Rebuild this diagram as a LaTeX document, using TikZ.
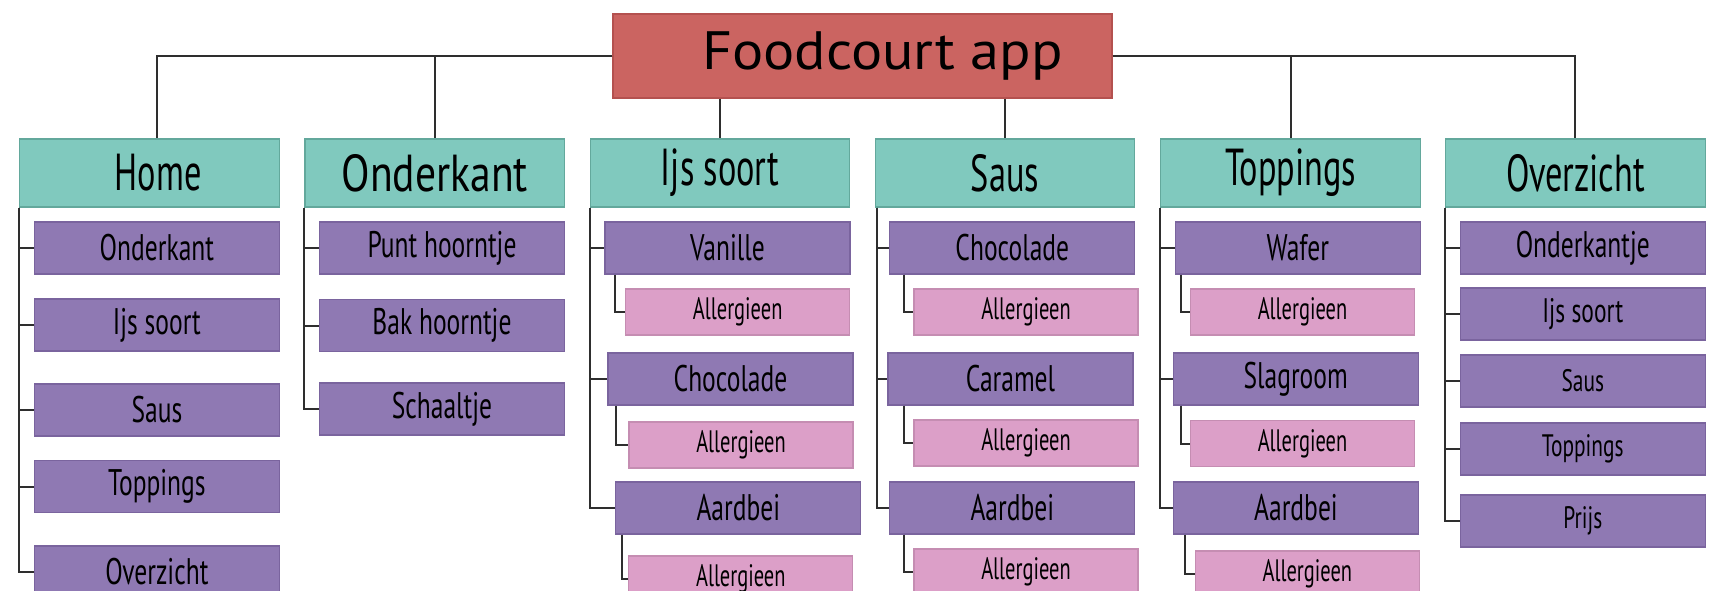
\documentclass[tikz,border=0pt]{standalone}
\usepackage{fontspec}
\setmainfont{PT Sans}
\newfontfamily\rootfont{PT Sans}[FakeStretch=1.08]
\newfontfamily\narrowfont{PT Sans}[FakeStretch=0.66]
\newfontfamily\itemfont{PT Sans}[FakeStretch=0.69]
\newfontfamily\widefont{PT Sans}[FakeStretch=0.8]
\usetikzlibrary{positioning}
\definecolor{appred}{HTML}{CB6461}
\definecolor{appredline}{HTML}{B4514F}
\definecolor{pageteal}{HTML}{80C9BE}
\definecolor{pagetealline}{HTML}{63A89C}
\definecolor{itempurple}{HTML}{8F79B3}
\definecolor{itempurpleline}{HTML}{7A649E}
\definecolor{allergypink}{HTML}{DC9FC8}
\definecolor{allergypinkline}{HTML}{C58DB2}
\definecolor{linegray}{HTML}{2E2E2E}

\begin{document}
\begin{tikzpicture}[x=1pt,y=-1pt,
  box/.style={draw,rectangle,inner sep=0pt,line width=1.2pt},
  app/.style={box,fill=appred,draw=appredline,minimum width=499pt,minimum height=84pt,font=\rootfont\fontsize{54}{60}\selectfont},
  page/.style={box,fill=pageteal,draw=pagetealline,minimum width=259.5pt,minimum height=68pt,font=\narrowfont\fontsize{52}{60}\selectfont},
  item/.style={box,fill=itempurple,draw=itempurpleline,minimum width=245pt,minimum height=52pt,font=\itemfont\fontsize{37}{44}\selectfont},
  itemsmall/.style={item,font=\itemfont\fontsize{31}{38}\selectfont},
  allergy/.style={box,fill=allergypink,draw=allergypinkline,minimum width=224pt,minimum height=46pt,font=\narrowfont\fontsize{31}{36}\selectfont},
  link/.style={draw=linegray,line width=2pt}]
\useasboundingbox (0,0) rectangle (1715,591);
\clip (0,0) rectangle (1715,591);

% top
\node[app] (root) at (862.4,56) {\hspace*{40pt}Foodcourt app};

% pages
\node[page] (home)  at (149.6,173)  {\hspace*{17pt}Home};
\node[page,font=\widefont\fontsize{52}{60}\selectfont] (onder) at (434.8,173) {Onderkant};
\node[page] (ijs)   at (720.1,173)  {Ijs soort};
\node[page] (saus)  at (1005,173)   {Saus};
\node[page] (topp)  at (1290.5,173) {Toppings};
\node[page] (over)  at (1575.4,173) {Overzicht};

\draw[link] (root.west) -| ([xshift=7pt]home.north);
\draw[link] (root.west) -| (onder.north);
\draw[link] (root.east) -| (topp.north);
\draw[link] (root.east) -| (over.north);
\draw[link] (root.south -| ijs.north) -- (ijs.north);
\draw[link] (root.south -| saus.north) -- (saus.north);

% home
\node[item] (hOnder) at (156.9,248)   {Onderkant};
\node[item] (hIjs)   at (156.9,325)   {Ijs soort};
\node[item] (hSaus)  at (156.9,410)   {Saus};
\node[item] (hTop)   at (156.9,486.5) {Toppings};
\node[item] (hOver)  at (156.9,572)   {Overzicht};
\foreach \c in {hOnder,hIjs,hSaus,hTop,hOver}
  \draw[link] (home.south west) |- (\c.west);

% onderkant
\node[item] (oPunt)   at (442,248)   {Punt hoorntje};
\node[item] (oBak)    at (442,325.5) {Bak hoorntje};
\node[item] (oSchaal) at (442,409)   {Schaaltje};
\foreach \c in {oPunt,oBak,oSchaal}
  \draw[link] (onder.south west) |- (\c.west);

% ijs soort
\node[item] (iVan)      at (727.5,248) {Vanille};
\node[allergy] (iVanA)  at (737.7,312) {Allergieen};
\node[item] (iChoc)     at (730.5,379) {Chocolade};
\node[allergy] (iChocA) at (741,445)   {Allergieen};
\node[item] (iAard)     at (738.3,508) {Aardbei};
\node[allergy] (iAardA) at (740.8,579) {Allergieen};
\foreach \c in {iVan,iChoc,iAard}
  \draw[link] (ijs.south west) |- (\c.west);
\draw[link] ([xshift=11pt]iVan.south west) |- (iVanA.west);
\draw[link] ([xshift=9pt]iChoc.south west) |- (iChocA.west);
\draw[link] ([xshift=7pt]iAard.south west) |- (iAardA.west);

% saus
\node[item] (sChoc)     at (1012.3,248) {Chocolade};
\node[allergy] (sChocA) at (1026,312)   {Allergieen};
\node[item] (sCar)      at (1010.5,379) {Caramel};
\node[allergy] (sCarA)  at (1026,443)   {Allergieen};
\node[item] (sAard)     at (1012.3,508) {Aardbei};
\node[allergy] (sAardA) at (1026,572)   {Allergieen};
\foreach \c in {sChoc,sCar,sAard}
  \draw[link] ([xshift=2pt]saus.south west) |- (\c.west);
\draw[link] ([xshift=14.5pt]sChoc.south west) |- (sChocA.west);
\draw[link] ([xshift=16.4pt]sCar.south west) |- (sCarA.west);
\draw[link] ([xshift=14.5pt]sAard.south west) |- (sAardA.west);

% toppings
\node[item] (tWafer)     at (1297.8,248)   {Wafer};
\node[allergy] (tWaferA) at (1302.5,312)   {Allergieen};
\node[item] (tSlag)      at (1295.7,379)   {Slagroom};
\node[allergy] (tSlagA)  at (1302.5,443.5) {Allergieen};
\node[item] (tAard)      at (1296,508)     {Aardbei};
\node[allergy] (tAardA)  at (1307.4,574)   {Allergieen};
\foreach \c in {tWafer,tSlag,tAard}
  \draw[link] (topp.south west) |- (\c.west);
\draw[link] ([xshift=6pt]tWafer.south west) |- (tWaferA.west);
\draw[link] ([xshift=8pt]tSlag.south west) |- (tSlagA.west);
\draw[link] ([xshift=12pt]tAard.south west) |- (tAardA.west);

% overzicht
\node[item] (vOnder) at (1582.8,248) {Onderkantje};
\node[item,font=\itemfont\fontsize{34}{40}\selectfont] (vIjs) at (1582.8,314) {Ijs soort};
\node[itemsmall] (vSaus)  at (1582.8,381) {Saus};
\node[itemsmall] (vTop)   at (1582.8,449) {Toppings};
\node[itemsmall] (vPrijs) at (1582.8,521) {Prijs};
\foreach \c in {vOnder,vIjs,vSaus,vTop,vPrijs}
  \draw[link] (over.south west) |- (\c.west);
\end{tikzpicture}
\end{document}
